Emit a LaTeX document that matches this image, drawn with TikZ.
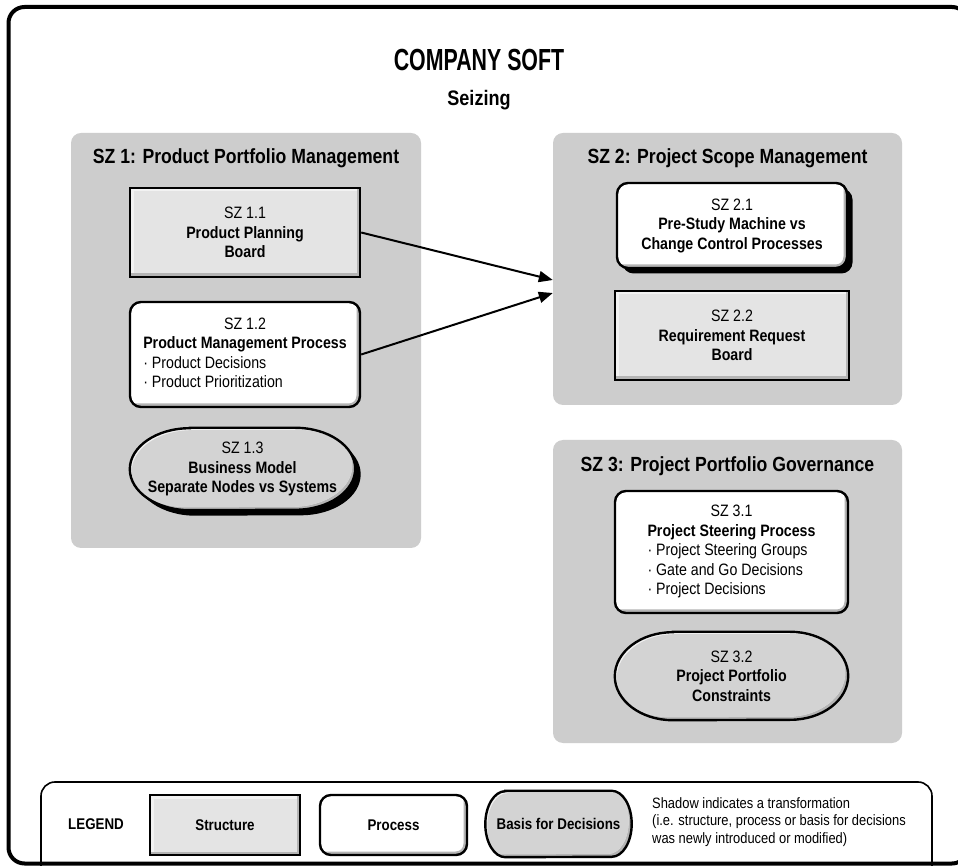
\documentclass[tikz,border=0pt]{standalone}
\usepackage{fontspec}
\setmainfont[FakeStretch=0.86]{Liberation Sans}
\newfontfamily\headfont[FakeStretch=0.7]{Liberation Sans}
\usetikzlibrary{arrows.meta,calc,shadows}

\definecolor{zonegray}{HTML}{CDCDCD}
\definecolor{structfill}{HTML}{E4E4E4}
\definecolor{basisfill}{HTML}{D3D3D3}
\definecolor{bevellight}{HTML}{F2F2F2}
\definecolor{beveldark}{HTML}{B4B4B4}

\pgfdeclarelayer{zonelayer}
\pgfdeclarelayer{shapelayer}
\pgfsetlayers{zonelayer,shapelayer,main}

\newcommand\nodefont{\fontsize{16.5}{19.5}\selectfont}

% stadium outline around a node: node, dx, dy, x radius, y radius
\newcommand\basisoutline[5]{%
  ($(#1.north west)+(#4+#2,#3)$) -- ($(#1.north east)+(-#4+#2,#3)$)
  arc[start angle=90,end angle=-90,x radius=#4,y radius=#5]
  -- ($(#1.south west)+(#4+#2,#3)$)
  arc[start angle=270,end angle=90,x radius=#4,y radius=#5] -- cycle}

% bevelled stadium behind a node: node, x radius, y radius
\newcommand\basisshape[3]{%
  \begin{scope}
    \clip \basisoutline{#1}{0}{0}{#2}{#3};
    \fill[beveldark] \basisoutline{#1}{0}{0}{#2}{#3};
    \clip \basisoutline{#1}{-3}{3}{#2}{#3};
    \fill[bevellight] \basisoutline{#1}{0}{0}{#2}{#3};
    \clip \basisoutline{#1}{2}{-2}{#2}{#3};
    \fill[basisfill] \basisoutline{#1}{0}{0}{#2}{#3};
  \end{scope}
  \draw[line width=2.4pt] \basisoutline{#1}{0}{0}{#2}{#3};}

\tikzset{
  zone/.style={fill=zonegray, rounded corners=10pt, inner sep=0pt},
  zonetitle/.style={font=\fontsize{20.5}{24}\selectfont\bfseries},
  bevel/.style n args={2}{path picture={
    \draw[#1,line width=7pt] (path picture bounding box.south west)
      -- (path picture bounding box.north west) -- (path picture bounding box.north east);
    \draw[#2,line width=7pt] (path picture bounding box.south west)
      -- (path picture bounding box.south east) -- (path picture bounding box.north east);}},
  box/.style={draw=black, line width=2.4pt, inner sep=0pt, align=center, font=\nodefont},
  structure/.style={box, rectangle, fill=structfill, bevel={bevellight}{beveldark}},
  process/.style={box, rectangle, rounded corners=11pt, fill=white, bevel={white}{beveldark}},
  basistext/.style={rectangle, inner sep=0pt, align=center, font=\nodefont},
  shadowed/.style={drop shadow={shadow xshift=5.5pt, shadow yshift=-5.5pt, fill=black, opacity=1}},
  conn/.style={line width=2pt, -{Triangle[length=14pt,width=11pt]}},
  legendtext/.style={font=\fontsize{15.5}{18}\selectfont\bfseries, align=center, inner sep=0pt},
}

\begin{document}
\begin{tikzpicture}[x=1pt,y=1pt]
\useasboundingbox (0,0) rectangle (958,865);
\begin{pgfonlayer}{zonelayer}
\fill[white] (0,0) rectangle (958,865);
\end{pgfonlayer}

% outer frame and legend frame
\draw[line width=4pt, rounded corners=16pt] (8.5,1.5) rectangle (968,858);
\draw[line width=1.6pt, rounded corners=14pt] (41,83) rectangle (932,-30);

% headings
\node[font=\headfont\bfseries\fontsize{30.5}{36}\selectfont] (title) at (479,805) {COMPANY SOFT};
\node[font=\fontsize{21}{25}\selectfont\bfseries] (subtitle) at (479,765) {Seizing};

% zones
\begin{pgfonlayer}{zonelayer}
\node[zone, minimum width=350pt, minimum height=415pt] (sz1) at (246,524.5) {};
\node[zone, minimum width=349pt, minimum height=272pt] (sz2) at (727.5,596) {};
\node[zone, minimum width=349pt, minimum height=303pt] (sz3) at (727.5,273.5) {};
\end{pgfonlayer}
\node[zonetitle] (sz1t) at (246,707) {SZ 1: Product Portfolio Management};
\node[zonetitle] (sz2t) at (727.5,707) {SZ 2: Project Scope Management};
\node[zonetitle] (sz3t) at (727.5,399) {SZ 3: Project Portfolio Governance};

% SZ 1
\node[structure, minimum width=230pt, minimum height=89pt] (s11) at (245,632.5)
  {SZ 1.1\\ \textbf{Product Planning}\\ \textbf{Board}};
\node[process, minimum width=230pt, minimum height=105pt] (s12) at (245,510.5)
  {\begin{tabular}{@{}l@{}}\multicolumn{1}{@{}c@{}}{SZ 1.2}\\
   \textbf{Product Management Process}\\ · Product Decisions\\ · Product Prioritization\end{tabular}};
\node[basistext, minimum width=225pt, minimum height=82pt] (s13) at (242.5,396)
  {SZ 1.3\\ \textbf{Business Model}\\ \textbf{Separate Nodes vs Systems}};

% SZ 2
\node[process, shadowed, minimum width=230pt, minimum height=85pt] (s21) at (732,639.5)
  {SZ 2.1\\ \textbf{Pre-Study Machine vs}\\ \textbf{Change Control Processes}};
\node[structure, minimum width=234pt, minimum height=89pt] (s22) at (732,529.5)
  {SZ 2.2\\ \textbf{Requirement Request}\\ \textbf{Board}};

% SZ 3
\node[process, minimum width=233pt, minimum height=122pt] (s31) at (731.5,313)
  {\begin{tabular}{@{}l@{}}\multicolumn{1}{@{}c@{}}{SZ 3.1}\\
   \textbf{Project Steering Process}\\ · Project Steering Groups\\ · Gate and Go Decisions\\ · Project Decisions\end{tabular}};
\node[basistext, minimum width=233pt, minimum height=88pt] (s32) at (731.5,189)
  {SZ 3.2\\ \textbf{Project Portfolio}\\ \textbf{Constraints}};

% legend
\node[legendtext] (leg) at (96,41) {LEGEND};
\node[structure, legendtext, minimum width=150pt, minimum height=60pt] (legs) at (225,40) {Structure};
\node[process, legendtext, minimum width=147pt, minimum height=60pt] (legp) at (393.5,40) {Process};
\node[basistext, legendtext, minimum width=146pt, minimum height=66pt] (legb) at (558.5,41) {Basis for Decisions};
\node[font=\fontsize{15}{17.5}\selectfont, align=left, anchor=west, inner sep=0pt] (legn) at (652,43)
  {Shadow indicates a transformation\\ (i.e. structure, process or basis for decisions\\ was newly introduced or modified)};

% stadium shapes for the basis-for-decisions items
\begin{pgfonlayer}{shapelayer}
\fill[black] \basisoutline{s13}{5.5}{-5.5}{60}{41};
\basisshape{s13}{60}{41}
\basisshape{s32}{58}{44}
\basisshape{legb}{20}{33}
\end{pgfonlayer}

% connectors into SZ 2
\coordinate (in1) at ($(sz2.west)+(0,-11)$);
\coordinate (in2) at ($(sz2.west)+(0,-24)$);
\draw[conn] (s11.east) -- (in1);
\draw[conn] (s12.east) -- (in2);
\end{tikzpicture}
\end{document}
